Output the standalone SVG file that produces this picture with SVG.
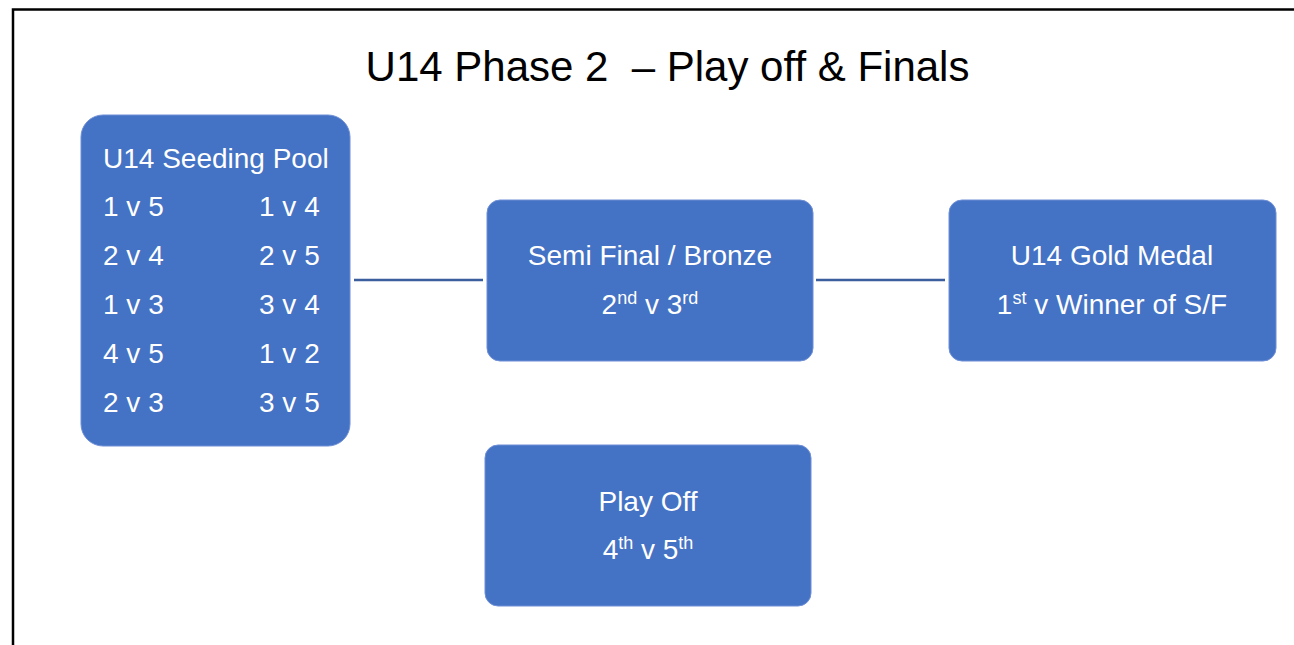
<svg xmlns="http://www.w3.org/2000/svg" width="1294" height="645" viewBox="0 0 1294 645">
<style>
.box{fill:#4472C4;stroke:#6E8ED6;stroke-width:1}
.t{font-family:"Liberation Sans",Arial,sans-serif;font-size:28px;fill:#FFFFFF}
.c{text-anchor:middle}
.sup{font-size:18px}
.con{stroke:#3A5E9E;stroke-width:2.5;fill:none}
</style>
<rect x="0" y="0" width="1294" height="645" fill="#FFFFFF"/>
<rect x="13" y="9.5" width="1400" height="700" fill="none" stroke="#000000" stroke-width="2.5"/>
<text x="667.5" y="81" font-family="Liberation Sans,Arial,sans-serif" font-size="42" fill="#000000" text-anchor="middle" xml:space="preserve">U14 Phase 2  – Play off &amp; Finals</text>
<g id="connectors">
<line class="con" x1="354" y1="280" x2="483" y2="280"/>
<line class="con" x1="816" y1="280" x2="945" y2="280"/>
</g>
<g id="seeding">
<rect class="box" x="81" y="115" width="269" height="331" rx="22"/>
<text class="t" x="103" y="168">U14 Seeding Pool</text>
<text class="t" x="103" y="216">1 v 5</text>
<text class="t" x="259" y="216">1 v 4</text>
<text class="t" x="103" y="265">2 v 4</text>
<text class="t" x="259" y="265">2 v 5</text>
<text class="t" x="103" y="314">1 v 3</text>
<text class="t" x="259" y="314">3 v 4</text>
<text class="t" x="103" y="363">4 v 5</text>
<text class="t" x="259" y="363">1 v 2</text>
<text class="t" x="103" y="412">2 v 3</text>
<text class="t" x="259" y="412">3 v 5</text>
</g>
<g id="semi">
<rect class="box" x="487" y="200" width="326" height="161" rx="13"/>
<text class="t c" x="650" y="265">Semi Final / Bronze</text>
<text class="t c" x="650" y="314">2<tspan class="sup" dy="-10">nd</tspan><tspan dy="10"> v 3</tspan><tspan class="sup" dy="-10">rd</tspan></text>
</g>
<g id="gold">
<rect class="box" x="949" y="200" width="327" height="161" rx="13"/>
<text class="t c" x="1112" y="265">U14 Gold Medal</text>
<text class="t c" x="1112" y="314">1<tspan class="sup" dy="-10">st</tspan><tspan dy="10"> v Winner of S/F</tspan></text>
</g>
<g id="playoff">
<rect class="box" x="485" y="445" width="326" height="161" rx="13"/>
<text class="t c" x="648" y="511">Play Off</text>
<text class="t c" x="648" y="559">4<tspan class="sup" dy="-10">th</tspan><tspan dy="10"> v 5</tspan><tspan class="sup" dy="-10">th</tspan></text>
</g>
</svg>
